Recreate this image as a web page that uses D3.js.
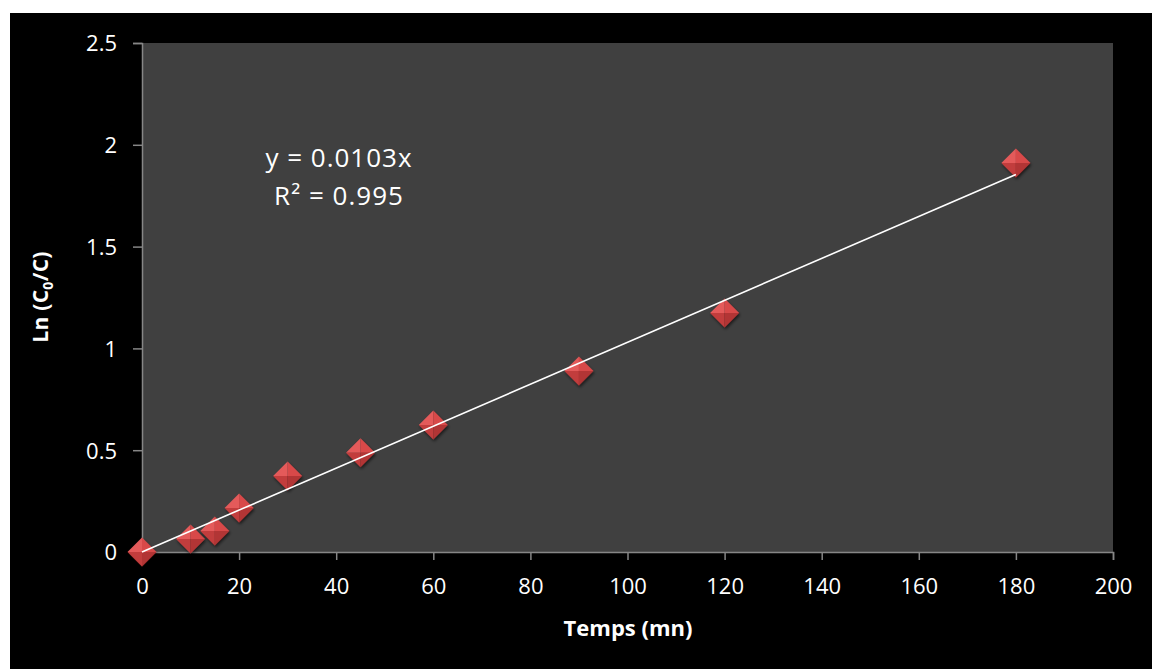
<!DOCTYPE html>
<html><head><meta charset="utf-8">
<script src="https://cdn.jsdelivr.net/npm/d3@7"></script>
<style>html,body{margin:0;padding:0;background:#fff;}svg{display:block;}</style>
</head><body>
<script>
const times = [0, 10, 15, 20, 30, 45, 60, 90, 120, 180];
const lnValues = [0.0, 0.064, 0.103, 0.216, 0.373, 0.488, 0.624, 0.889, 1.174, 1.91];
const xTicks = [0, 20, 40, 60, 80, 100, 120, 140, 160, 180, 200];
const yTicks = [0, 0.5, 1, 1.5, 2, 2.5];
const slope = 0.0103;
const trendRange = [0, 180];
const eqLines = ["y = 0.0103x", "R² = 0.995"];

const W = 1152, H = 669;
const svg = d3.select("body").append("svg").attr("width", W).attr("height", H);
svg.append("rect").attr("x", 10).attr("y", 13).attr("width", W - 10).attr("height", H - 13).attr("fill", "#000");

const L = 142, R = 1113, T = 43, B = 552;
const x = d3.scaleLinear().domain([0, 200]).range([L, R]);
const y = d3.scaleLinear().domain([0, 2.5]).range([B, T]);

svg.append("rect").attr("x", L).attr("y", T).attr("width", R - L).attr("height", B - T).attr("fill", "#404040");

const font = "'Open Sans', sans-serif";
const axisColor = "#868686";

const xAxis = svg.append("g").attr("transform", `translate(0,${B})`)
  .call(d3.axisBottom(x).tickValues(xTicks).tickSize(8).tickSizeOuter(8).tickPadding(18).tickFormat(d3.format("d")));
const yAxis = svg.append("g").attr("transform", `translate(${L},0)`)
  .call(d3.axisLeft(y).tickValues(yTicks).tickSize(9).tickSizeOuter(9).tickPadding(16).tickFormat(d => String(d)));
[xAxis, yAxis].forEach(g => {
  g.selectAll("path.domain").attr("stroke", axisColor).attr("stroke-width", 1.5);
  g.selectAll(".tick line").attr("stroke", axisColor).attr("stroke-width", 1.5);
  g.selectAll(".tick text").attr("fill", "#fff").attr("font-family", font).attr("font-size", 22);
});
yAxis.selectAll(".tick text").attr("dy", "0.36em");

// markers
const s = 14.5;
const defs = svg.append("defs");
const f = defs.append("filter").attr("id", "sh").attr("x", "-50%").attr("y", "-50%").attr("width", "200%").attr("height", "200%");
f.append("feGaussianBlur").attr("in", "SourceAlpha").attr("stdDeviation", 1.5);
f.append("feOffset").attr("dx", 1).attr("dy", 2).attr("result", "o");
f.append("feComponentTransfer").append("feFuncA").attr("type", "linear").attr("slope", 0.6);
const fm = f.append("feMerge"); fm.append("feMergeNode"); fm.append("feMergeNode").attr("in", "SourceGraphic");

const pts = times.map((t, i) => ({ t, v: lnValues[i] }));
const mk = svg.append("g").selectAll("g").data(pts).enter().append("g")
  .attr("transform", d => `translate(${x(d.t)},${y(d.v)})`).attr("filter", "url(#sh)");
const facets = [
  { p: [[0, -s], [-s, 0], [0, 0]], c: "#e45a5a" },
  { p: [[0, -s], [s, 0], [0, 0]], c: "#d84a4a" },
  { p: [[-s, 0], [0, s], [0, 0]], c: "#c23c3c" },
  { p: [[s, 0], [0, s], [0, 0]], c: "#b23434" }
];
facets.forEach(fc => {
  mk.append("path").attr("d", d3.line()(fc.p) + "Z").attr("fill", fc.c);
});

// trendline
svg.append("line")
  .attr("x1", x(trendRange[0])).attr("y1", y(slope * trendRange[0]))
  .attr("x2", x(trendRange[1])).attr("y2", y(slope * trendRange[1]))
  .attr("stroke", "#fff").attr("stroke-width", 1.6);

// equation
svg.append("g").selectAll("text").data(eqLines).enter().append("text")
  .attr("x", 339).attr("y", (d, i) => 167 + i * 38)
  .attr("text-anchor", "middle").attr("fill", "#fff").attr("font-family", font).attr("font-size", 26)
  .attr("letter-spacing", 1)
  .text(d => d);

// axis titles
svg.append("text").attr("x", 628).attr("y", 636).attr("text-anchor", "middle")
  .attr("fill", "#fff").attr("font-family", font).attr("font-weight", "bold").attr("font-size", 22)
  .text("Temps (mn)");
const yt = svg.append("text").attr("transform", "translate(48,297) rotate(-90)").attr("text-anchor", "middle")
  .attr("fill", "#fff").attr("font-family", font).attr("font-weight", "bold").attr("font-size", 21)
  .attr("letter-spacing", 0.3);
yt.append("tspan").text("Ln (C");
yt.append("tspan").attr("font-size", 14).attr("dy", 5).text("0");
yt.append("tspan").attr("dy", -5).text("/C)");
</script>
</body></html>
